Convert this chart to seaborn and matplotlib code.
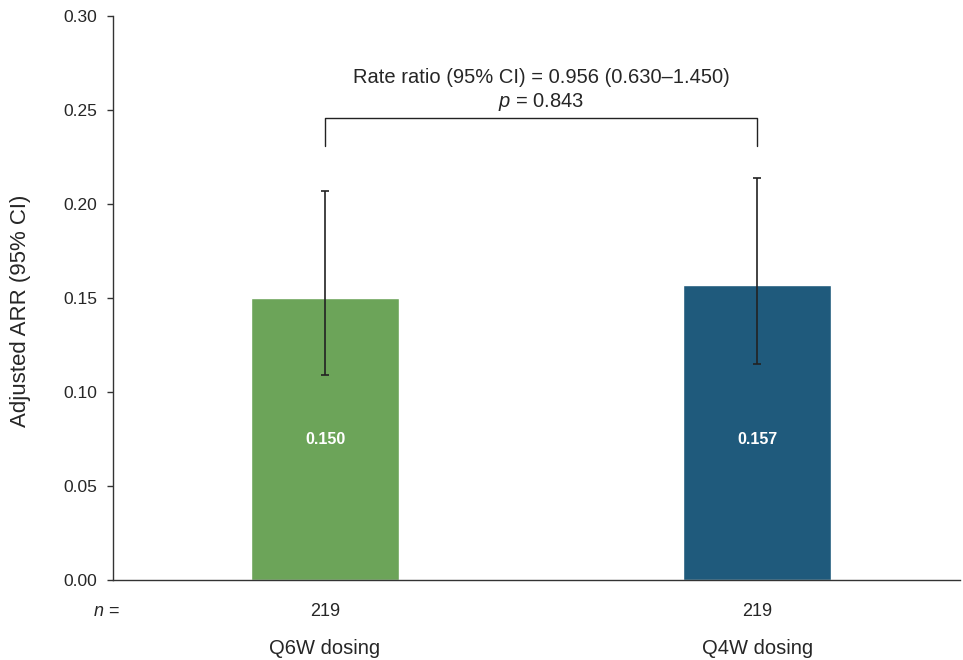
import numpy as np
import pandas as pd
import seaborn as sns
import matplotlib.pyplot as plt
from matplotlib.transforms import blended_transform_factory

# Data
groups = ['Q6W dosing', 'Q4W dosing']
arr = [0.150, 0.157]
ci_low = [0.109, 0.115]
ci_high = [0.207, 0.214]
n_patients = [219, 219]
bar_colors = ['#6ca459', '#1f5a7c']

rate_ratio_text = 'Rate ratio (95% CI) = 0.956 (0.630\u20131.450)'
p_text = r'$p$ = 0.843'

df = pd.DataFrame({'group': groups, 'arr': arr})

sns.set_style('white')
plt.rcParams['font.family'] = ['Liberation Sans', 'DejaVu Sans']
plt.rcParams['mathtext.fontset'] = 'custom'
plt.rcParams['mathtext.it'] = 'Liberation Sans:italic'
plt.rcParams['mathtext.rm'] = 'Liberation Sans'

fig = plt.figure(figsize=(9.63, 6.6), dpi=100)
ax = fig.add_axes([0.1173, 0.1212, 0.88, 0.8546])

sns.barplot(data=df, x='group', y='arr', hue='group', palette=bar_colors,
            width=0.343, legend=False, ax=ax, saturation=1)

# 95% CI error bars
xpos = np.arange(len(groups))
yerr = [np.array(arr) - np.array(ci_low), np.array(ci_high) - np.array(arr)]
ax.errorbar(xpos, arr, yerr=yerr, fmt='none', ecolor='#222222',
            elinewidth=1.2, capsize=2.6, capthick=1.2)

# value labels inside the bars
for x, v in zip(xpos, arr):
    ax.text(x, 0.0745, f'{v:.3f}', ha='center', va='center',
            color='white', fontsize=11.5, fontweight='bold')

# comparison bracket
ax.plot([0, 0, 1, 1], [0.231, 0.2457, 0.2457, 0.231], color='#222222', lw=1)
ax.text(0.5, 0.2675, rate_ratio_text, ha='center', va='center', fontsize=14.5)
ax.text(0.5, 0.2545, p_text, ha='center', va='center', fontsize=14.5)

ax.set_ylim(0, 0.30)
ax.set_xlim(-0.4907, 1.47)
ticks = np.arange(0, 0.31, 0.05)
ax.set_yticks(ticks)
ax.set_yticklabels([f'{t:.2f}' for t in ticks], fontsize=12.5)
ax.set_xticks([])
ax.set_xlabel('')
ax.set_ylabel('Adjusted ARR (95% CI)', fontsize=16)
ax.yaxis.set_label_coords(-0.097, 0.478)
ax.tick_params(axis='y', direction='out', length=4.5, width=1, color='#333333',
               left=True, pad=7)

for side in ['top', 'right']:
    ax.spines[side].set_visible(False)
for side in ['left', 'bottom']:
    ax.spines[side].set_color('#333333')
    ax.spines[side].set_linewidth(1)

# n row and group labels below the axis
trans = blended_transform_factory(ax.transData, fig.transFigure)
fig.text(0.110, 1 - 611 / 660, r'$n$ =', ha='center', va='center', fontsize=13)
for x, n, g in zip(xpos, n_patients, groups):
    ax.text(x, 1 - 611 / 660, str(n), transform=trans, ha='center', va='center', fontsize=13)
    ax.text(x, 1 - 648 / 660, g, transform=trans, ha='center', va='center', fontsize=14.5)

fig.savefig('out.png', dpi=100)
